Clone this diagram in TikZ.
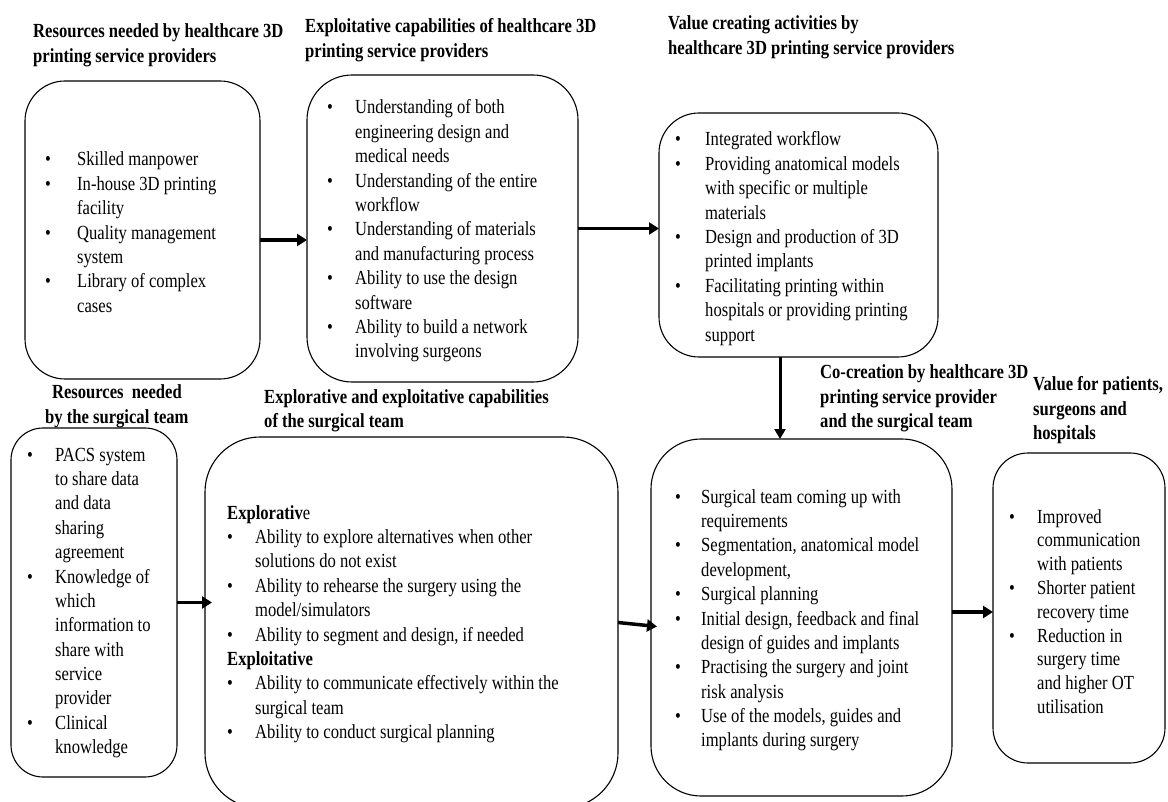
\documentclass[tikz,border=0pt]{standalone}
\usepackage{fontspec}
\setmainfont{Liberation Serif}[FakeStretch=0.83]
\usetikzlibrary{arrows.meta}
\newlength{\bulw}
\newcommand{\bu}{\makebox[\bulw][l]{\textbullet}}
\newcommand{\hd}[1]{\multicolumn{2}{@{}l@{}}{#1}}
\begin{document}
\begin{tikzpicture}[x=1pt,y=-1pt,
  font=\fontsize{20}{24.4}\selectfont,
  box/.style={draw, line width=1.1pt, rounded corners=#1, inner sep=0pt, outer sep=0pt, anchor=north west},
  box/.default=40pt,
  arr/.style={line width=3.5pt, -{Triangle[length=10pt,width=12pt]}},
  varr/.style={line width=3pt, -{Triangle[length=10pt,width=11pt]}},
  ttl/.style={anchor=base west, inner sep=0pt, font=\fontsize{20}{24.4}\selectfont\bfseries},
  txt/.style={anchor=base west, inner sep=0pt}]
\useasboundingbox (0,0) rectangle (1168,802);
\clip (0,0) rectangle (1168,802);

% boxes
\node[box=40pt, minimum width=235pt, minimum height=298pt] (b1) at (25,81) {};
\node[box=45pt, minimum width=271pt, minimum height=307pt] (b2) at (307,75) {};
\node[box=40pt, minimum width=279pt, minimum height=244pt] (b3) at (659,113) {};
\node[box=32pt, minimum width=166pt, minimum height=349pt] (b4) at (11,428) {};
\node[box=55pt, minimum width=413pt, minimum height=371pt] (b5) at (205,437) {};
\node[box=50pt, minimum width=301pt, minimum height=357pt] (b6) at (651,439) {};
\node[box=35pt, minimum width=172pt, minimum height=310pt] (b7) at (993,453) {};

% titles
\node[ttl] (t1) at (33,38) {\begin{tabular}[t]{@{}l@{}}Resources needed by healthcare 3D\\printing service providers\end{tabular}};
\node[ttl] (t2) at (305,33) {\begin{tabular}[t]{@{}l@{}}Exploitative capabilities of healthcare 3D\\printing service providers\end{tabular}};
\node[ttl] (t3) at (668,30) {\begin{tabular}[t]{@{}l@{}}Value creating activities by\\healthcare 3D printing service providers\end{tabular}};
\node[ttl] (t4) at (45,399) {\begin{tabular}[t]{@{}c@{}}Resources\ \ needed\\by the surgical team\end{tabular}};
\node[ttl] (t5) at (264,403) {\begin{tabular}[t]{@{}l@{}}Explorative and exploitative capabilities\\of the surgical team\end{tabular}};
\node[ttl] (t6) at (820,379) {\begin{tabular}[t]{@{}l@{}}Co-creation by healthcare 3D\\printing service provider\\and the surgical team\end{tabular}};
\node[ttl] (t7) at (1033,391) {\begin{tabular}[t]{@{}l@{}}Value for patients,\\surgeons and\\hospitals\end{tabular}};

% box texts
\node[txt] (x1) at (45,166) {\setlength{\bulw}{32pt}\begin{tabular}[t]{@{}l@{}l@{}}
\bu & Skilled manpower\\
\bu & In-house 3D printing\\
 & facility\\
\bu & Quality management\\
 & system\\
\bu & Library of complex\\
 & cases
\end{tabular}};

\node[txt] (x2) at (327,114) {\setlength{\bulw}{28pt}\begin{tabular}[t]{@{}l@{}l@{}}
\bu & Understanding of both\\
 & engineering design and\\
 & medical needs\\
\bu & Understanding of the entire\\
 & workflow\\
\bu & Understanding of materials\\
 & and manufacturing process\\
\bu & Ability to use the design\\
 & software\\
\bu & Ability to build a network\\
 & involving surgeons
\end{tabular}};

\node[txt] (x3) at (675,146) {\setlength{\bulw}{30pt}\begin{tabular}[t]{@{}l@{}l@{}}
\bu & Integrated workflow\\
\bu & Providing anatomical models\\
 & with specific or multiple\\
 & materials\\
\bu & Design and production of 3D\\
 & printed implants\\
\bu & Facilitating printing within\\
 & hospitals or providing printing\\
 & support
\end{tabular}};

\node[txt] (x4) at (27,461) {\setlength{\bulw}{28pt}\begin{tabular}[t]{@{}l@{}l@{}}
\bu & PACS system\\
 & to share data\\
 & and data\\
 & sharing\\
 & agreement\\
\bu & Knowledge of\\
 & which\\
 & information to\\
 & share with\\
 & service\\
 & provider\\
\bu & Clinical\\
 & knowledge
\end{tabular}};

\node[txt] (x5) at (227,519) {\setlength{\bulw}{28pt}\begin{tabular}[t]{@{}l@{}l@{}}
\hd{\textbf{Explorativ}e}\\
\bu & Ability to explore alternatives when other\\
 & solutions do not exist\\
\bu & Ability to rehearse the surgery using the\\
 & model/simulators\\
\bu & Ability to segment and design, if needed\\
\hd{\textbf{Exploitative}}\\
\bu & Ability to communicate effectively within the\\
 & surgical team\\
\bu & Ability to conduct surgical planning
\end{tabular}};

\node[txt] (x6) at (675,503) {\setlength{\bulw}{26pt}\begin{tabular}[t]{@{}l@{}l@{}}
\bu & Surgical team coming up with\\
 & requirements\\
\bu & Segmentation, anatomical model\\
 & development,\\
\bu & Surgical planning\\
\bu & Initial design, feedback and final\\
 & design of guides and implants\\
\bu & Practising the surgery and joint\\
 & risk analysis\\
\bu & Use of the models, guides and\\
 & implants during surgery
\end{tabular}};

\node[txt] (x7) at (1009,523) {\fontsize{20}{23.8}\selectfont\setlength{\bulw}{28pt}\begin{tabular}[t]{@{}l@{}l@{}}
\bu & Improved\\
 & communication\\
 & with patients\\
\bu & Shorter patient\\
 & recovery time\\
\bu & Reduction in\\
 & surgery time\\
 & and higher OT\\
 & utilisation
\end{tabular}};

% connectors
\coordinate (a1s) at ([yshift=-10pt]b1.east);
\draw[arr] (a1s) -- (a1s -| b2.west);
\draw[arr] (b2.east) -- (b2.east -| b3.west);
\coordinate (a3s) at ([xshift=-18.5pt]b3.south);
\draw[varr] (a3s) -- (a3s |- b6.north);
\coordinate (a4e) at (b4.east -| b5.west);
\draw[arr] (b4.east) -- ([xshift=7pt]a4e);
\coordinate (a5e) at (b5.east -| b6.west);
\draw[arr] (b5.east) -- ([xshift=6pt,yshift=-4pt]a5e);
\coordinate (a6s) at ([yshift=5.5pt]b6.east);
\draw[arr] (a6s) -- (a6s -| b7.west);
\end{tikzpicture}
\end{document}
